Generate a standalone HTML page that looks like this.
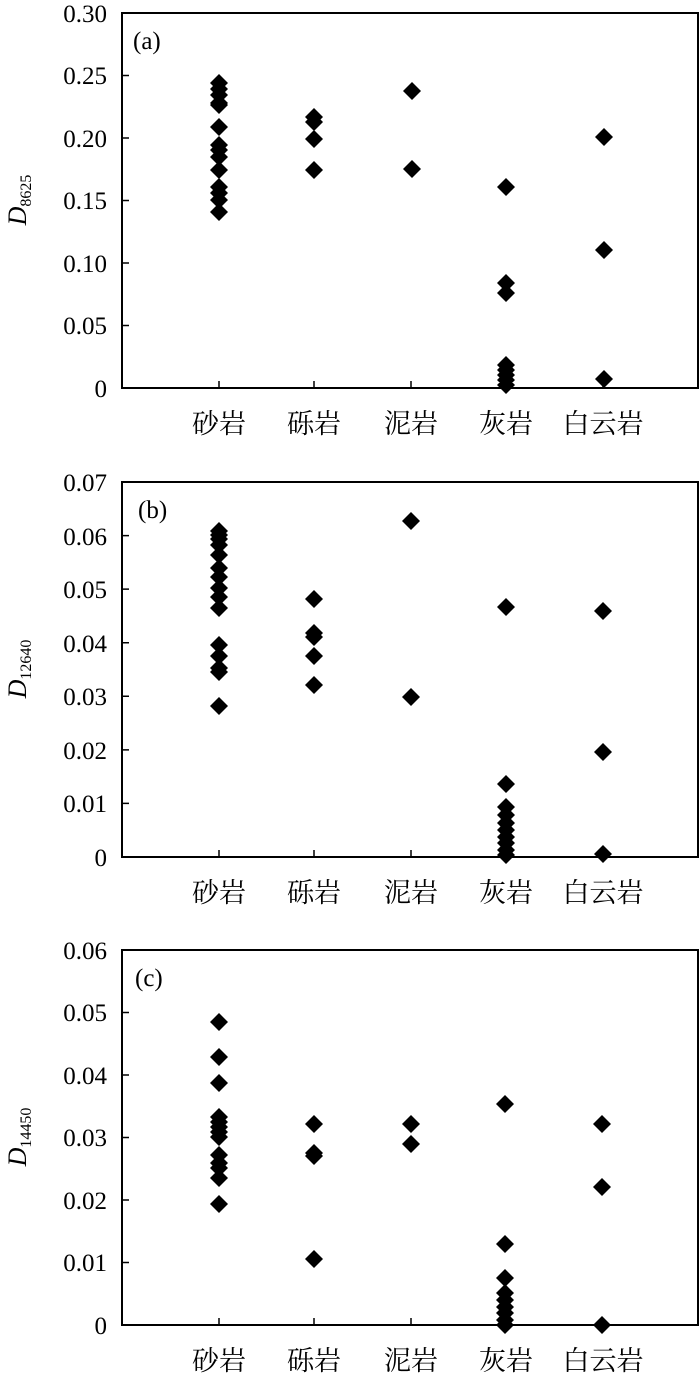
<!DOCTYPE html>
<html><head><meta charset="utf-8"><style>html,body{margin:0;padding:0;background:#fff;}svg{display:block}</style></head>
<body>
<svg width="700" height="1375" viewBox="0 0 700 1375" xmlns="http://www.w3.org/2000/svg">
<g font-family="Liberation Serif, serif" font-size="25" fill="#000">
<!-- Panel a -->
<rect x="122" y="13" width="576" height="375" fill="none" stroke="#000" stroke-width="2"/>
<path d="M122,75.5h7M122,138h7M122,200.5h7M122,263h7M122,325.5h7M219,388v-7M314,388v-7M411,388v-7M506,388v-7M603,388v-7" stroke="#000" stroke-width="1.5"/>
<g text-anchor="end">
<text x="107" y="22">0.30</text><text x="107" y="84">0.25</text><text x="107" y="147">0.20</text><text x="107" y="209">0.15</text><text x="107" y="272">0.10</text><text x="107" y="334">0.05</text><text x="107" y="397">0</text>
</g>
<text x="133" y="49" font-size="25">(a)</text>
<text transform="translate(26,200) rotate(-90)" text-anchor="middle" font-size="26"><tspan font-style="italic">D</tspan><tspan font-size="16" dy="5">8625</tspan></text>
<path d="M219,74l9,9-9,9-9-9zM219,80l9,9-9,9-9-9zM219,86l9,9-9,9-9-9zM219,94l9,9-9,9-9-9zM219,96l9,9-9,9-9-9zM219,118l9,9-9,9-9-9zM219,136l9,9-9,9-9-9zM219,141l9,9-9,9-9-9zM219,148l9,9-9,9-9-9zM219,161l9,9-9,9-9-9zM219,178l9,9-9,9-9-9zM219,184l9,9-9,9-9-9zM219,191l9,9-9,9-9-9zM219,203l9,9-9,9-9-9z
M314,108l9,9-9,9-9-9zM314,113l9,9-9,9-9-9zM314,130l9,9-9,9-9-9zM314,161l9,9-9,9-9-9z
M412,82l9,9-9,9-9-9zM412,160l9,9-9,9-9-9z
M506,178l9,9-9,9-9-9zM506,274l9,9-9,9-9-9zM506,284l9,9-9,9-9-9zM506,356l9,9-9,9-9-9zM506,361l9,9-9,9-9-9zM506,366l9,9-9,9-9-9zM506,371l9,9-9,9-9-9zM506,376l9,9-9,9-9-9z
M604,128l9,9-9,9-9-9zM604,241l9,9-9,9-9-9zM604,370l9,9-9,9-9-9z"/>
<g font-family="Liberation Serif, 'Noto Serif CJK SC', serif" font-size="27" text-anchor="middle">
<text x="219" y="433">砂岩</text><text x="314" y="433">砾岩</text><text x="411" y="433">泥岩</text><text x="506" y="433">灰岩</text><text x="603" y="433">白云岩</text>
</g>

<!-- Panel b -->
<rect x="122" y="482" width="576" height="375" fill="none" stroke="#000" stroke-width="2"/>
<path d="M122,535.6h7M122,589.1h7M122,642.7h7M122,696.3h7M122,749.9h7M122,803.4h7M219,857v-7M314,857v-7M411,857v-7M506,857v-7M603,857v-7" stroke="#000" stroke-width="1.5"/>
<g text-anchor="end">
<text x="107" y="491">0.07</text><text x="107" y="545">0.06</text><text x="107" y="598">0.05</text><text x="107" y="652">0.04</text><text x="107" y="705">0.03</text><text x="107" y="759">0.02</text><text x="107" y="812">0.01</text><text x="107" y="866">0</text>
</g>
<text x="138" y="518" font-size="25">(b)</text>
<text transform="translate(26,669) rotate(-90)" text-anchor="middle" font-size="26"><tspan font-style="italic">D</tspan><tspan font-size="16" dy="5">12640</tspan></text>
<path d="M219,522l9,9-9,9-9-9zM219,526l9,9-9,9-9-9zM219,530l9,9-9,9-9-9zM219,536l9,9-9,9-9-9zM219,546l9,9-9,9-9-9zM219,559l9,9-9,9-9-9zM219,568l9,9-9,9-9-9zM219,579l9,9-9,9-9-9zM219,588l9,9-9,9-9-9zM219,599l9,9-9,9-9-9zM219,636l9,9-9,9-9-9zM219,647l9,9-9,9-9-9zM219,659l9,9-9,9-9-9zM219,663l9,9-9,9-9-9zM219,697l9,9-9,9-9-9z
M314,590l9,9-9,9-9-9zM314,624l9,9-9,9-9-9zM314,628l9,9-9,9-9-9zM314,647l9,9-9,9-9-9zM314,676l9,9-9,9-9-9z
M411,512l9,9-9,9-9-9zM411,688l9,9-9,9-9-9z
M506,598l9,9-9,9-9-9zM506,775l9,9-9,9-9-9zM506,798l9,9-9,9-9-9zM506,806l9,9-9,9-9-9zM506,814l9,9-9,9-9-9zM506,821l9,9-9,9-9-9zM506,828l9,9-9,9-9-9zM506,834l9,9-9,9-9-9zM506,841l9,9-9,9-9-9zM506,846l9,9-9,9-9-9z
M603,602l9,9-9,9-9-9zM603,743l9,9-9,9-9-9zM603,845l9,9-9,9-9-9z"/>
<g font-family="Liberation Serif, 'Noto Serif CJK SC', serif" font-size="27" text-anchor="middle">
<text x="219" y="902">砂岩</text><text x="314" y="902">砾岩</text><text x="411" y="902">泥岩</text><text x="506" y="902">灰岩</text><text x="603" y="902">白云岩</text>
</g>

<!-- Panel c -->
<rect x="122" y="950" width="576" height="375" fill="none" stroke="#000" stroke-width="2"/>
<path d="M122,1012.5h7M122,1075h7M122,1137.5h7M122,1200h7M122,1262.5h7M219,1325v-7M314,1325v-7M411,1325v-7M506,1325v-7M603,1325v-7" stroke="#000" stroke-width="1.5"/>
<g text-anchor="end">
<text x="107" y="959">0.06</text><text x="107" y="1021">0.05</text><text x="107" y="1084">0.04</text><text x="107" y="1146">0.03</text><text x="107" y="1209">0.02</text><text x="107" y="1271">0.01</text><text x="107" y="1334">0</text>
</g>
<text x="135" y="986" font-size="25">(c)</text>
<text transform="translate(26,1137) rotate(-90)" text-anchor="middle" font-size="26"><tspan font-style="italic">D</tspan><tspan font-size="16" dy="5">14450</tspan></text>
<path d="M219,1013l9,9-9,9-9-9zM219,1048l9,9-9,9-9-9zM219,1074l9,9-9,9-9-9zM219,1108l9,9-9,9-9-9zM219,1113l9,9-9,9-9-9zM219,1118l9,9-9,9-9-9zM219,1123l9,9-9,9-9-9zM219,1128l9,9-9,9-9-9zM219,1146l9,9-9,9-9-9zM219,1154l9,9-9,9-9-9zM219,1159l9,9-9,9-9-9zM219,1169l9,9-9,9-9-9zM219,1195l9,9-9,9-9-9z
M314,1115l9,9-9,9-9-9zM314,1144l9,9-9,9-9-9zM314,1147l9,9-9,9-9-9zM314,1250l9,9-9,9-9-9z
M411,1115l9,9-9,9-9-9zM411,1135l9,9-9,9-9-9z
M505,1095l9,9-9,9-9-9zM505,1235l9,9-9,9-9-9zM505,1269l9,9-9,9-9-9zM505,1284l9,9-9,9-9-9zM505,1291l9,9-9,9-9-9zM505,1298l9,9-9,9-9-9zM505,1304l9,9-9,9-9-9zM505,1311l9,9-9,9-9-9zM505,1316l9,9-9,9-9-9z
M602,1115l9,9-9,9-9-9zM602,1178l9,9-9,9-9-9zM602,1316l9,9-9,9-9-9z"/>
<g font-family="Liberation Serif, 'Noto Serif CJK SC', serif" font-size="27" text-anchor="middle">
<text x="219" y="1370">砂岩</text><text x="314" y="1370">砾岩</text><text x="411" y="1370">泥岩</text><text x="506" y="1370">灰岩</text><text x="603" y="1370">白云岩</text>
</g>
</g>
</svg>
</body></html>
